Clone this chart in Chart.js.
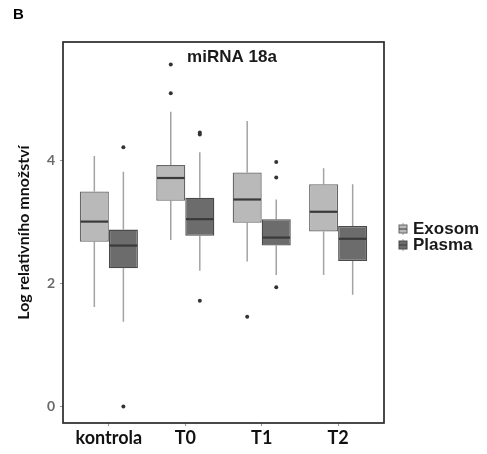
<!DOCTYPE html>
<html>
<head>
<meta charset="utf-8">
<script src="https://cdn.jsdelivr.net/npm/chart.js@4"></script>
<style>
html,body{margin:0;padding:0;background:#fff;}
#wrap{width:487px;height:454px;position:relative;}
</style>
</head>
<body>
<div id="wrap"><canvas id="c" width="487" height="454"></canvas></div>
<script>
const categories = ['kontrola', 'T0', 'T1', 'T2'];
const yTicks = [0, 2, 4];
const seriesNames = ['Exosom', 'Plasma'];

const exosomLow    = [1.62, 2.71, 2.36, 2.14];
const exosomQ1     = [2.68, 3.35, 2.99, 2.85];
const exosomMedian = [3.01, 3.72, 3.37, 3.17];
const exosomQ3     = [3.50, 3.93, 3.81, 3.62];
const exosomHigh   = [4.08, 4.80, 4.65, 3.88];
const exosomOutliers = [[], [5.57, 5.10], [1.46], []];

const plasmaLow    = [1.38, 2.21, 2.14, 1.82];
const plasmaQ1     = [2.25, 2.78, 2.62, 2.37];
const plasmaMedian = [2.62, 3.05, 2.75, 2.73];
const plasmaQ3     = [2.88, 3.40, 3.05, 2.94];
const plasmaHigh   = [3.82, 4.14, 3.37, 3.62];
const plasmaOutliers = [[4.22, 0.0], [4.46, 4.43, 1.72], [3.98, 3.73, 1.94], []];

const series = [
  {low: exosomLow, q1: exosomQ1, med: exosomMedian, q3: exosomQ3, high: exosomHigh, out: exosomOutliers},
  {low: plasmaLow, q1: plasmaQ1, med: plasmaMedian, q3: plasmaQ3, high: plasmaHigh, out: plasmaOutliers}
];

const fills = ['#b9b9b9', '#6c6c6c'];
const borders = ['#666666', '#4a4a4a'];
const whiskerColor = '#a3a3a3';
const medianColor = '#3a3a3a';

const catPct = 0.76;
const dodge = catPct / 4;

const boxDatasets = series.map((s, d) => ({
  type: 'bar',
  label: seriesNames[d],
  data: categories.map((c, i) => ({x: i + 1, y: [s.q1[i], s.q3[i]]})),
  backgroundColor: fills[d],
  borderColor: borders[d],
  borderWidth: 1.3,
  borderSkipped: false,
  categoryPercentage: catPct,
  barPercentage: 1.0,
  order: 2
}));

const outlierDatasets = series.map((s, d) => ({
  type: 'scatter',
  label: seriesNames[d] + ' outliers',
  data: s.out.flatMap((arr, i) => arr.map(v => ({x: i + 1 + (d === 0 ? -dodge : dodge), y: v}))),
  pointRadius: 2,
  pointBackgroundColor: '#333',
  pointBorderColor: '#333',
  pointBorderWidth: 0,
  showLine: false,
  order: 1
}));

const boxPlugin = {
  id: 'boxParts',
  beforeDatasetsDraw(chart) {
    const ctx = chart.ctx, y = chart.scales.y;
    ctx.save();
    ctx.strokeStyle = whiskerColor;
    ctx.lineWidth = 1.5;
    series.forEach((s, d) => {
      chart.getDatasetMeta(d).data.forEach((bar, i) => {
        ctx.beginPath();
        ctx.moveTo(bar.x, y.getPixelForValue(s.high[i]));
        ctx.lineTo(bar.x, y.getPixelForValue(s.q3[i]));
        ctx.moveTo(bar.x, y.getPixelForValue(s.q1[i]));
        ctx.lineTo(bar.x, y.getPixelForValue(s.low[i]));
        ctx.stroke();
      });
    });
    ctx.restore();
  },
  afterDatasetsDraw(chart) {
    const ctx = chart.ctx, y = chart.scales.y, a = chart.chartArea;
    ctx.save();
    ctx.strokeStyle = medianColor;
    ctx.lineWidth = 2.2;
    series.forEach((s, d) => {
      chart.getDatasetMeta(d).data.forEach((bar, i) => {
        const py = y.getPixelForValue(s.med[i]);
        ctx.beginPath();
        ctx.moveTo(bar.x - bar.width / 2 + 0.7, py);
        ctx.lineTo(bar.x + bar.width / 2 - 0.7, py);
        ctx.stroke();
      });
    });
    // panel border
    ctx.strokeStyle = '#2a2a2a';
    ctx.lineWidth = 1.7;
    ctx.strokeRect(a.left, a.top, a.right - a.left, a.bottom - a.top);
    // panel title
    ctx.fillStyle = '#1a1a1a';
    ctx.font = 'bold 17px "Liberation Sans", Arial, sans-serif';
    ctx.textAlign = 'center';
    ctx.textBaseline = 'middle';
    ctx.fillText('miRNA 18a', 232, 57);
    // figure letter
    ctx.font = 'bold 15px "Liberation Sans", Arial, sans-serif';
    ctx.textAlign = 'left';
    ctx.fillStyle = '#000';
    ctx.fillText('B', 13, 15);
    // legend
    const lx = 403;
    const rows = [229, 245];
    rows.forEach((ry, d) => {
      ctx.strokeStyle = whiskerColor;
      ctx.lineWidth = 1;
      ctx.beginPath();
      ctx.moveTo(lx, ry - 6); ctx.lineTo(lx, ry + 6);
      ctx.stroke();
      ctx.fillStyle = fills[d];
      ctx.strokeStyle = borders[d];
      ctx.fillRect(lx - 4, ry - 4, 8, 8);
      ctx.strokeRect(lx - 4, ry - 4, 8, 8);
      ctx.strokeStyle = medianColor;
      ctx.beginPath();
      ctx.moveTo(lx - 4, ry); ctx.lineTo(lx + 4, ry);
      ctx.stroke();
      ctx.fillStyle = '#1a1a1a';
      ctx.font = 'bold 17px "Liberation Sans", Arial, sans-serif';
      ctx.textAlign = 'left';
      ctx.textBaseline = 'middle';
      ctx.fillText(seriesNames[d], lx + 10, ry);
    });
    ctx.restore();
  }
};

new Chart(document.getElementById('c'), {
  data: {datasets: [...boxDatasets, ...outlierDatasets]},
  options: {
    responsive: false,
    animation: false,
    layout: {padding: {left: 0, right: 103, top: 42, bottom: 0}},
    plugins: {legend: {display: false}, tooltip: {enabled: false}, title: {display: false}},
    scales: {
      x: {
        type: 'linear',
        min: 0.4,
        max: 4.6,
        offset: false,
        afterBuildTicks: s => { s.ticks = categories.map((c, i) => ({value: i + 1})); },
        afterFit: s => { s.height = 31; },
        ticks: {
          callback: v => categories[Math.round(v) - 1],
          color: '#111',
          font: {family: 'Lato', weight: 'bold', size: 18},
          padding: 1,
          maxRotation: 0,
          autoSkip: false
        },
        grid: {display: true, drawOnChartArea: false, offset: false, tickLength: 3, color: '#999'},
        border: {display: false}
      },
      y: {
        type: 'linear',
        min: -0.27,
        max: 5.935,
        afterBuildTicks: s => { s.ticks = yTicks.map(v => ({value: v})); },
        afterFit: s => { s.width = 63; },
        ticks: {
          color: '#6a6a6a',
          font: {family: 'Lato', weight: 'bold', size: 14},
          padding: 5
        },
        grid: {display: true, drawOnChartArea: false, tickLength: 3, color: '#999'},
        border: {display: false},
        title: {
          display: true,
          text: 'Log relativního množství',
          color: '#111',
          font: {family: 'Lato', weight: 'bold', size: 16},
          padding: {top: 14, bottom: 0}
        }
      }
    }
  },
  plugins: [boxPlugin]
});
</script>
</body>
</html>
